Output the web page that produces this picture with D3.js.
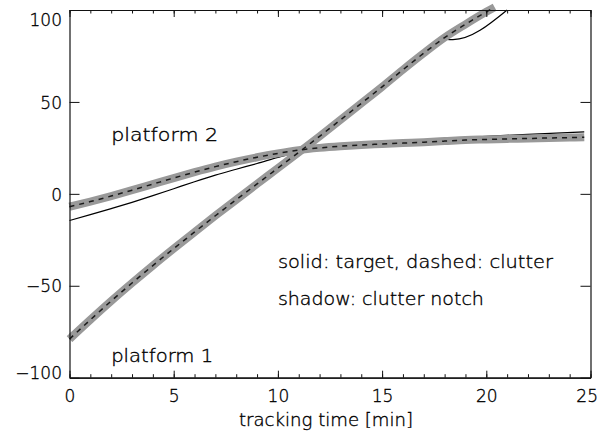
<!DOCTYPE html>
<html>
<head>
<meta charset="utf-8">
<script src="https://cdn.jsdelivr.net/npm/d3@7/dist/d3.min.js"></script>
<style>
  html, body { margin: 0; padding: 0; background: #fff; }
  svg { display: block; }
  text { font-family: "DejaVu Sans", "Liberation Sans", sans-serif; font-weight: 200; fill: #000; stroke: #000; stroke-width: 0.35px; }
</style>
</head>
<body>
<svg id="chart" width="598" height="431"></svg>
<script>
// tracking time [min]
const p1ClutterTime = [0, 1, 2, 3, 4, 5, 6, 7, 8, 9, 10, 11, 12, 13, 14, 15, 16, 17, 18, 19, 20, 20.4];
const p1Clutter     = [-79, -68.5, -58.3, -48.5, -39, -29.8, -20.8, -11.9, -3.2, 5.4, 14, 22.6, 31.3, 40.2, 49.2, 58.2, 67.5, 76.5, 85, 92.2, 99, 101.5];

const p1TargetTime = [0, 1, 2, 3, 4, 5, 6, 7, 8, 9, 10, 11, 12, 12.8, 13.1, 13.4, 14, 15, 16, 17, 17.9, 18.1, 18.4, 21];
const p1Target     = [-76.5, -67.2, -58.2, -48.5, -39, -29.8, -20.8, -11.9, -3.2, 5.4, 14, 22.6, 31.3, 38.4, 40.6, 43.5, 49.2, 58.2, 67.5, 76.5, 84.5, 84.0, 83.9, 100];

const p2ClutterTime = [0, 1, 2, 3, 4, 5, 6, 7, 8, 9, 10, 11, 12, 13, 14, 15, 16, 17, 18, 19, 20, 21, 22, 23, 24, 24.7];
const p2Clutter     = [-7, -4.2, -1.2, 2.0, 5.3, 8.6, 11.8, 14.8, 17.5, 19.9, 22.0, 23.8, 25.0, 25.9, 26.6, 27.1, 27.6, 28.1, 28.7, 29.3, 29.6, 29.9, 30.1, 30.4, 30.6, 30.8];

const p2TargetTime = [0, 1, 2, 3, 4, 5, 6, 7, 8, 9, 10, 11, 12, 13, 14, 15, 16, 17, 18.1, 18.4, 20, 22, 24.7];
const p2Target     = [-14.5, -11.3, -8.0, -4.6, -1.0, 2.8, 6.6, 10.2, 13.4, 16.5, 19.8, 22.8, 25.0, 25.9, 26.6, 27.1, 27.6, 28.1, 28.7, 30.2, 31.3, 32.4, 33.7];

const xTicks = [0, 5, 10, 15, 20, 25];
const xMinorTicks = d3.range(0, 26, 1);
const yTicks = [-100, -50, 0, 50, 100];

const labels = [
  { text: "platform 2", t: 2.0, v: 29, width: 107 },
  { text: "platform 1", t: 2.0, v: -91.5, width: 102 },
  { text: "solid: target, dashed: clutter", t: 10.0, v: -40.6, width: 275 },
  { text: "shadow: clutter notch", t: 10.0, v: -60.7, width: 206 }
];
const xTitle = "tracking time [min]";

const svg = d3.select("#chart");
const plotLeft = 69.5, plotRight = 590.5, plotTop = 10, plotBottom = 377.7;

const x = d3.scaleLinear().domain([0, 25]).range([plotLeft, plotRight]);
const y = d3.scaleLinear().domain([-100, 100]).range([plotBottom, plotTop]);

const toPts = (ts, vs) => ts.map((t, i) => [t, vs[i]]);
const line = d3.line().x(d => x(d[0])).y(d => y(d[1])).curve(d3.curveMonotoneX);

const series = [
  { target: toPts(p1TargetTime, p1Target), clutter: toPts(p1ClutterTime, p1Clutter) },
  { target: toPts(p2TargetTime, p2Target), clutter: toPts(p2ClutterTime, p2Clutter) }
];

const g = svg.append("g");

// target tracks (drawn first, the notch shadow covers them where they coincide)
series.forEach(s => {
  g.append("path").attr("d", line(s.target))
    .attr("fill", "none").attr("stroke", "#000").attr("stroke-width", 1.2);
});
// clutter notch shadow
series.forEach(s => {
  g.append("path").attr("d", line(s.clutter))
    .attr("fill", "none").attr("stroke", "#999").attr("stroke-width", 8);
});
// clutter tracks, dashed
series.forEach(s => {
  g.append("path").attr("d", line(s.clutter))
    .attr("fill", "none").attr("stroke", "#1a1a1a").attr("stroke-width", 1.5)
    .attr("stroke-dasharray", "5,5");
});

// axes, ticks pointing inward
const axisStyle = sel => {
  sel.select(".domain").attr("stroke", "#111").attr("stroke-width", 1.2);
  sel.selectAll(".tick line").attr("stroke", "#111").attr("stroke-width", 1);
  sel.selectAll("text").attr("font-size", 17).attr("font-family", null).attr("fill", null);
};

svg.append("g").attr("transform", `translate(0,${plotBottom})`)
  .call(d3.axisBottom(x).tickValues(xMinorTicks).tickSize(-3.5).tickSizeOuter(0).tickFormat(""))
  .call(axisStyle);
const xAxis = svg.append("g").attr("transform", `translate(0,${plotBottom})`)
  .call(d3.axisBottom(x).tickValues(xTicks).tickSize(-7).tickSizeOuter(0).tickPadding(12).tickFormat(d3.format("d")))
  .call(axisStyle);
// last label sits against the right edge of the page
xAxis.selectAll(".tick text")
  .filter(d => d === 25)
  .attr("text-anchor", "end")
  .attr("x", 598 - plotRight - 0.5);

svg.append("g").attr("transform", `translate(0,${plotTop})`)
  .call(d3.axisTop(x).tickValues(xMinorTicks).tickSize(-3.5).tickSizeOuter(0).tickFormat(""))
  .call(axisStyle);
svg.append("g").attr("transform", `translate(0,${plotTop})`)
  .call(d3.axisTop(x).tickValues(xTicks).tickSize(-7).tickSizeOuter(0).tickFormat(""))
  .call(axisStyle);

const yAxis = svg.append("g").attr("transform", `translate(${plotLeft},0)`)
  .call(d3.axisLeft(y).tickValues(yTicks).tickSize(-10).tickSizeOuter(0).tickPadding(7.5)
    .tickFormat(d => d < 0 ? "\u2212" + Math.abs(d) : String(d)))
  .call(axisStyle);
yAxis.selectAll(".tick text")
  .attr("dy", null)
  .attr("y", d => d === 100 ? 15 : d === -100 ? 0.5 : 6.2);

svg.append("g").attr("transform", `translate(${plotRight},0)`)
  .call(d3.axisRight(y).tickValues(yTicks).tickSize(-10).tickSizeOuter(0).tickFormat(""))
  .call(axisStyle);

// annotations
svg.append("g").selectAll("text").data(labels).join("text")
  .attr("x", d => x(d.t))
  .attr("y", d => y(d.v))
  .attr("font-size", 17)
  .attr("textLength", d => d.width)
  .attr("lengthAdjust", "spacingAndGlyphs")
  .text(d => d.text);

svg.append("text")
  .attr("x", 239).attr("y", 425.5)
  .attr("font-size", 17)
  .attr("textLength", 174)
  .attr("lengthAdjust", "spacingAndGlyphs")
  .text(xTitle);
</script>
</body>
</html>
